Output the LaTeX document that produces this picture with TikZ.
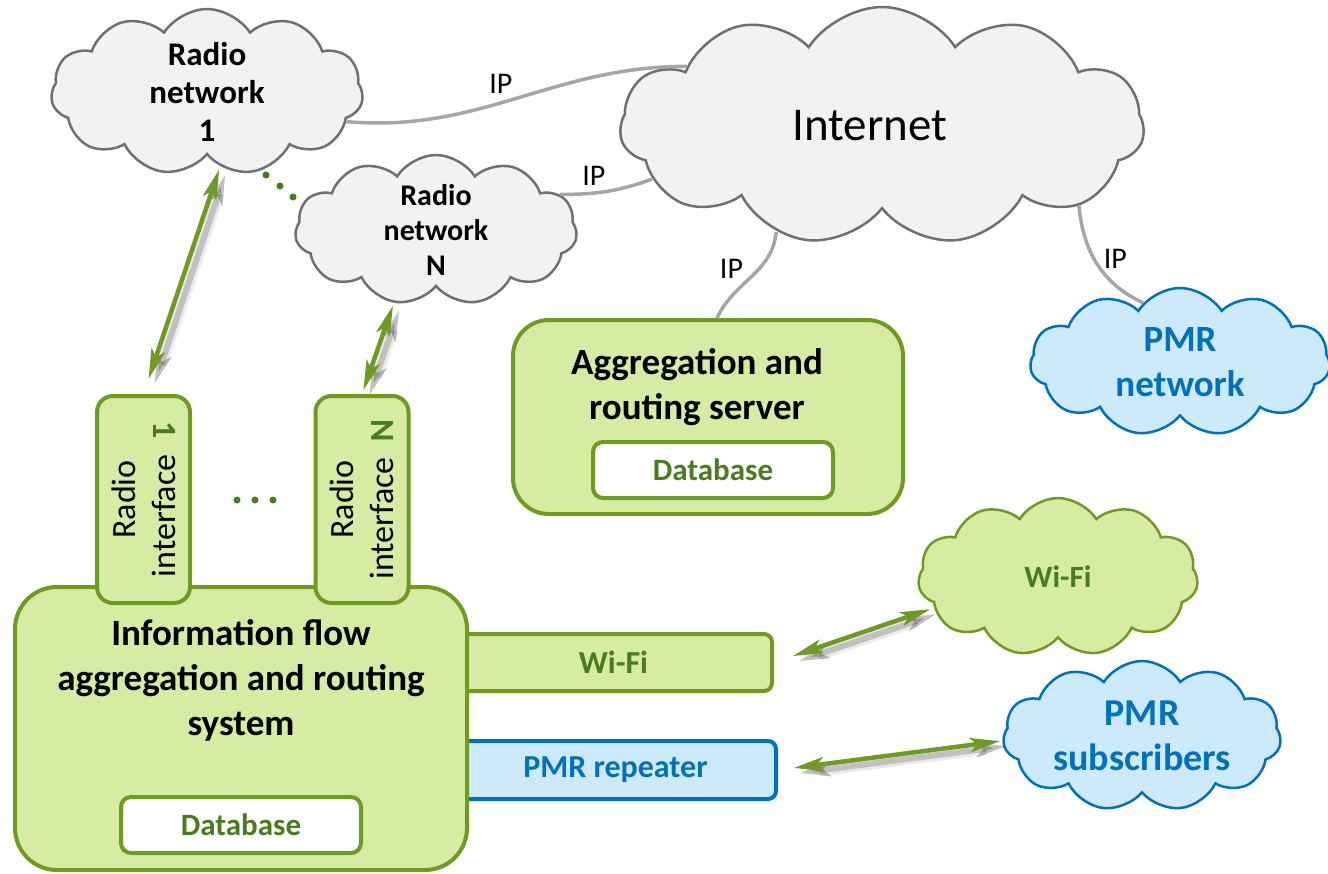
\documentclass[tikz,border=0pt]{standalone}
\usepackage{fontspec}
\setmainfont{Carlito}
\usepackage{tikz}
\usetikzlibrary{arrows.meta,positioning,shapes.symbols}
\definecolor{cloudgray}{HTML}{F2F2F2}
\definecolor{cloudline}{HTML}{707070}
\definecolor{linegray}{HTML}{A6A6A6}
\definecolor{boxgreen}{HTML}{D7ECA3}
\definecolor{edgegreen}{HTML}{6F9A23}
\definecolor{textgreen}{HTML}{4A7C1E}
\definecolor{boxblue}{HTML}{CCEAFB}
\definecolor{edgeblue}{HTML}{0070C0}
\tikzset{
    %Define standard arrow tip
    >={Stealth[length=30pt,width=14pt,inset=7pt]},
    %Define style for clouds
    netcloud/.style={
           cloud,
           cloud puffs=11,
           cloud puff arc=115,
           cloud ignores aspect,
           draw=cloudline, line width=2.5pt,
           fill=cloudgray,
           align=center,
           inner sep=0pt},
    greencloud/.style={
           netcloud,
           draw=edgegreen,
           fill=boxgreen,
           text=textgreen},
    bluecloud/.style={
           netcloud,
           draw=edgeblue,
           fill=boxblue,
           text=edgeblue},
    %Define style for boxes
    greenbox/.style={
           rectangle,
           rounded corners=16pt,
           draw=edgegreen, line width=4pt,
           fill=boxgreen,
           align=center,
           inner sep=0pt},
    bluebox/.style={
           greenbox,
           draw=edgeblue,
           fill=boxblue,
           text=edgeblue},
    dbbox/.style={
           greenbox,
           rounded corners=10pt,
           fill=white,
           minimum width=240pt,
           minimum height=56pt,
           text=textgreen,
           font=\fontsize{31}{36}\selectfont\bfseries},
    % Define arrow style
    arr/.style={
           <->,
           line width=4.5pt,
           draw=edgegreen,
           preaction={draw=black, opacity=.08, line width=12pt,
                      transform canvas={shift={(6pt,-5pt)}}},
           preaction={draw=black, opacity=.18, line width=6pt,
                      transform canvas={shift={(6pt,-5pt)}}}},
    ipline/.style={
           draw=linegray,
           line width=3.5pt},
    iplabel/.style={
           font=\fontsize{30}{36}\selectfont,
           inner sep=2pt}
}
\newcommand{\rifnum}[1]{\textcolor{textgreen}{\rotatebox[origin=c]{180}{\bfseries #1}}}

\begin{document}
\begin{tikzpicture}[x=1pt,y=-1pt,
    bigtext/.style={font=\fontsize{37}{45}\selectfont\bfseries, align=center, inner sep=0pt},
    riface/.style={greenbox, rotate=90, minimum width=207pt, minimum height=93pt,
                   font=\fontsize{34}{40}\selectfont}]
\useasboundingbox (0,0) rectangle (1328,873);

% clouds
\node[netcloud, minimum width=312pt, minimum height=166pt,
      font=\fontsize{33}{38}\selectfont\bfseries] (rn1) at (207,92) {Radio\\ network\\ 1};
\node[netcloud, minimum width=282pt, minimum height=150pt,
      font=\fontsize{30}{35}\selectfont\bfseries] (rnN) at (436,230) {Radio\\ network\\ N};
\node[netcloud, minimum width=524pt, minimum height=238pt,
      font=\fontsize{47}{52}\selectfont] (inet) at (882,126) {\hspace*{-24pt}Internet};
\node[bluecloud, minimum width=300pt, minimum height=148pt,
      font=\fontsize{37}{45}\selectfont\bfseries] (pmrnet) at (1180,362) {PMR\\ network};
\node[greencloud, minimum width=280pt, minimum height=158pt,
      font=\fontsize{31}{36}\selectfont\bfseries] (wific) at (1058,577) {Wi-Fi};
\node[bluecloud, minimum width=278pt, minimum height=150pt,
      font=\fontsize{38}{45}\selectfont\bfseries] (pmrsub) at (1142,736) {PMR\\ subscribers};

% IP links
\draw[ipline] (rn1.-12) to[out=-5,in=180] node[iplabel, pos=.45, above=6pt]{IP} (inet.163);
\draw[ipline] (rnN.16) to[out=0,in=200] node[iplabel, pos=.35, above=4pt]{IP} (inet.193);

% aggregation server
\node[greenbox, rounded corners=36pt, minimum width=390pt, minimum height=194pt] (srv) at (708,417) {};
\node[bigtext, below=30pt of srv.north, xshift=-11pt] (srvtxt) {Aggregation and\\ routing server};
\node[dbbox, above=16pt of srv.south, xshift=5pt] (srvdb) {Database};

\draw[ipline] (inet.225) to[out=-95,in=65] node[iplabel, pos=.4, left=12pt]{IP} ([xshift=9pt]srv.north);
\draw[ipline] (inet.-22) to[out=-85,in=155] node[iplabel, pos=.45, right=6pt]{IP} (pmrnet.122);

% side boxes
\node[greenbox, rounded corners=8pt, minimum width=317pt, minimum height=57pt,
      text=textgreen, font=\fontsize{32}{36}\selectfont\bfseries] (wifi) at (613.5,662.5) {Wi-Fi};
\node[bluebox, rounded corners=8pt, minimum width=321pt, minimum height=58pt,
      font=\fontsize{32}{36}\selectfont\bfseries] (pmrrep) at (615.5,770) {PMR repeater};

% main system
\node[greenbox, rounded corners=42pt, minimum width=452pt, minimum height=283pt] (sys) at (241,728.5) {};
\node[bigtext, below=34pt of sys.north] (systxt) {Information flow\\ aggregation and routing\\ system};
\node[dbbox, above=17pt of sys.south] (sysdb) {Database};

% radio interfaces
\node[riface] (ri1) at (143.5,499.5) {Radio\\ interface\ \ \rifnum{1}};
\node[riface] (riN) at (362,499.5) {Radio\\ interface\ \ \rifnum{N}};

% dots
\foreach \x in {237,255,273}
    \fill[textgreen] (\x,500) circle (3.5pt);
\foreach \x/\y in {266/175,280/186,293/197}
    \fill[textgreen] (\x,\y) circle (3.5pt);

% radio and local links
\draw[arr, shorten <=16pt, shorten >=3pt] (ri1.east) -- (rn1.-80);
\draw[arr, shorten <=4pt, shorten >=3pt] (riN.east) -- (rnN.240);
\draw[arr, shorten <=20pt, shorten >=4pt] (wifi.east) -- (wific.194);
\draw[arr, shorten <=16pt, shorten >=2pt] (pmrrep.east) -- (pmrsub.182);
\end{tikzpicture}
\end{document}
